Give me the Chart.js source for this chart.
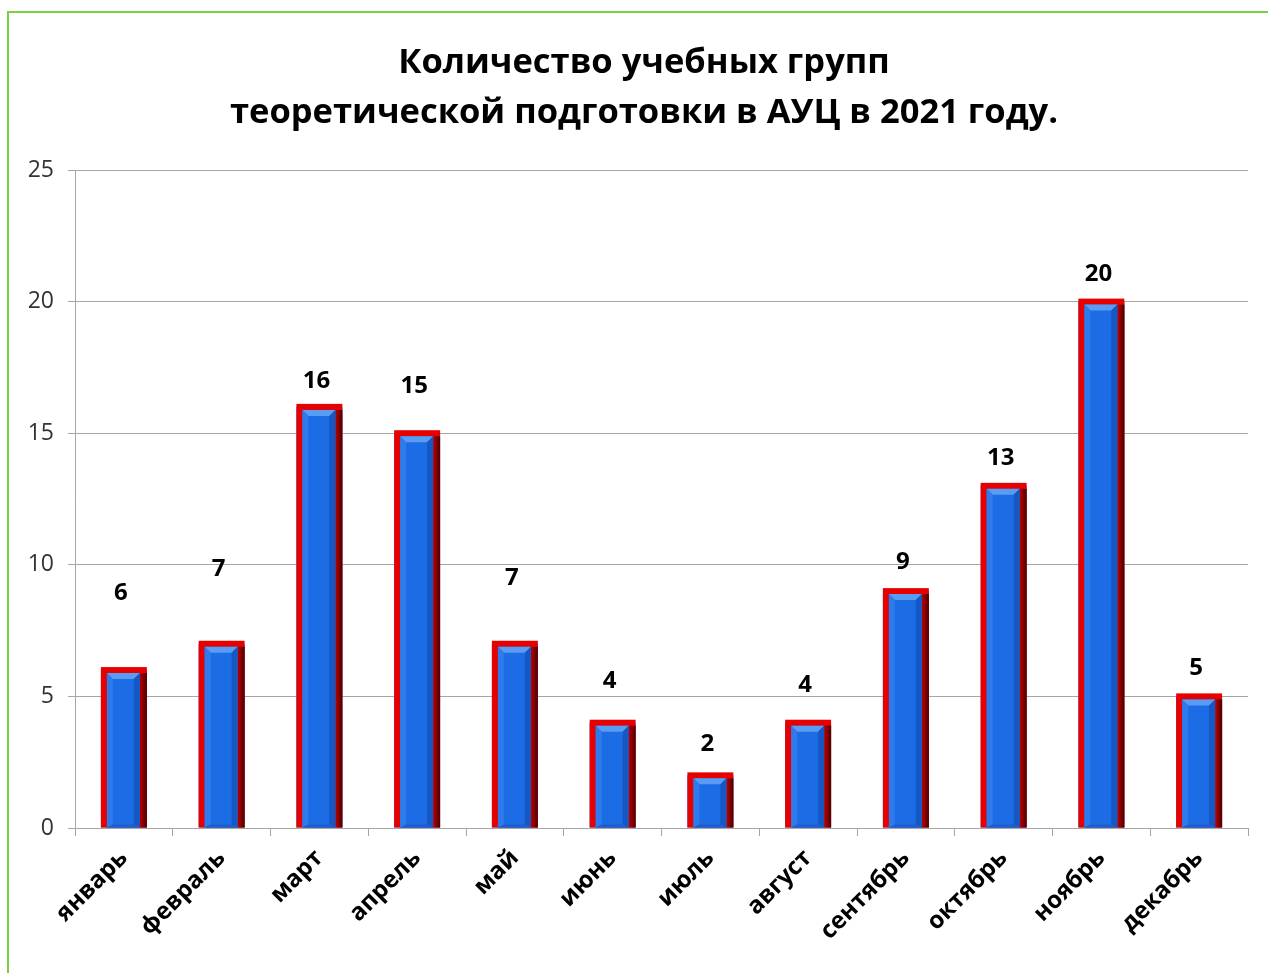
<!DOCTYPE html>
<html>
<head>
<meta charset="utf-8">
<script src="https://cdn.jsdelivr.net/npm/chart.js@4/dist/chart.umd.min.js"></script>
<style>
  html, body { margin: 0; padding: 0; background: #fff; overflow: hidden; }
  #wrap { position: relative; width: 1268px; height: 973px; }
</style>
</head>
<body>
<div id="wrap"><canvas id="c" width="1268" height="973"></canvas></div>
<script>
const titleLines = ['Количество учебных групп', 'теоретической подготовки в АУЦ в 2021 году.'];
const months = ['январь', 'февраль', 'март', 'апрель', 'май', 'июнь', 'июль', 'август', 'сентябрь', 'октябрь', 'ноябрь', 'декабрь'];
const groups = [6, 7, 16, 15, 7, 4, 2, 4, 9, 13, 20, 5];
const yTicks = [0, 5, 10, 15, 20, 25];

const FONT = '"Open Sans", "Liberation Sans", sans-serif';

const framePlugin = {
  id: 'frame',
  beforeDraw(chart) {
    const ctx = chart.ctx;
    ctx.save();
    ctx.fillStyle = '#fff';
    ctx.fillRect(0, 0, chart.width, chart.height);
    ctx.strokeStyle = '#7ad13e';
    ctx.lineWidth = 2;
    ctx.beginPath();
    ctx.moveTo(8, chart.height);
    ctx.lineTo(8, 12);
    ctx.lineTo(chart.width, 12);
    ctx.stroke();
    // title
    ctx.fillStyle = '#000';
    ctx.font = 'bold 34.5px ' + FONT;
    ctx.textAlign = 'center';
    ctx.textBaseline = 'middle';
    const cx = 644;
    ctx.fillText(titleLines[0], cx, 63);
    ctx.fillText(titleLines[1], cx, 113);
    ctx.restore();
  }
};

const barStylePlugin = {
  id: 'barStyle',
  afterDatasetsDraw(chart, args, opts) {
    const ctx = chart.ctx;
    const meta = chart.getDatasetMeta(0);
    ctx.save();
    meta.data.forEach((bar, i) => {
      const p = bar.getProps(['x', 'y', 'base', 'width'], true);
      const L = p.x - p.width / 2, R = p.x + p.width / 2;
      const T = p.y - 3, B = p.base;
      const bw = 6, tb = 6;
      // outer red
      ctx.fillStyle = '#e60000';
      ctx.fillRect(L, T, R - L, B - T);
      // right dark edge
      const g = ctx.createLinearGradient(R - bw - 1, 0, R, 0);
      g.addColorStop(0, '#c00000');
      g.addColorStop(1, '#4a0000');
      ctx.fillStyle = g;
      ctx.fillRect(R - bw - 1, T + tb, bw + 1, B - T - tb);
      // inner blue
      const iL = L + bw, iR = R - bw - 1, iT = T + tb, iB = B;
      ctx.fillStyle = '#1c6ce6';
      ctx.fillRect(iL, iT, iR - iL, iB - iT);
      // bevels
      const bv = 6;
      ctx.fillStyle = '#5a9cf2';
      ctx.beginPath();
      ctx.moveTo(iL, iT); ctx.lineTo(iR, iT); ctx.lineTo(iR - bv, iT + bv); ctx.lineTo(iL + bv, iT + bv); ctx.closePath(); ctx.fill();
      ctx.fillStyle = '#2f7bec';
      ctx.beginPath();
      ctx.moveTo(iL, iT); ctx.lineTo(iL + bv, iT + bv); ctx.lineTo(iL + bv, iB - 3); ctx.lineTo(iL, iB); ctx.closePath(); ctx.fill();
      ctx.fillStyle = '#1558c4';
      ctx.beginPath();
      ctx.moveTo(iR, iT); ctx.lineTo(iR - bv, iT + bv); ctx.lineTo(iR - bv, iB - 3); ctx.lineTo(iR, iB); ctx.closePath(); ctx.fill();
      ctx.fillStyle = '#1a5fd0';
      ctx.beginPath();
      ctx.moveTo(iL, iB); ctx.lineTo(iL + bv, iB - 3); ctx.lineTo(iR - bv, iB - 3); ctx.lineTo(iR, iB); ctx.closePath(); ctx.fill();
      // value label
      ctx.fillStyle = '#000';
      ctx.font = 'bold 24px ' + FONT;
      ctx.textAlign = 'center';
      ctx.textBaseline = 'middle';
      const rise = opts.rise[i];
      ctx.fillText(String(groups[i]), p.x - 3, p.y - rise);
    });
    ctx.restore();
  }
};

new Chart(document.getElementById('c'), {
  type: 'bar',
  data: {
    labels: months,
    datasets: [{
      data: groups,
      backgroundColor: '#1c6ce6',
      borderWidth: 0,
      barPercentage: 0.47,
      categoryPercentage: 1.0
    }]
  },
  plugins: [framePlugin, barStylePlugin],
  options: {
    responsive: false,
    animation: false,
    events: [],
    layout: { padding: { left: 0, right: 20, top: 170, bottom: 0 } },
    plugins: {
      legend: { display: false },
      title: { display: false },
      tooltip: { enabled: false },
      barStyle: { rise: [77, 75, 26, 47, 66, 42, 31, 38, 29, 28, 27, 28] }
    },
    scales: {
      x: {
        grid: { display: true, drawOnChartArea: false, drawTicks: true, tickLength: 8, color: '#a6a6a6', offset: true },
        border: { display: true, color: '#a6a6a6', width: 1 },
        ticks: {
          color: '#000',
          font: { family: FONT, size: 24, weight: 'bold' },
          minRotation: 45, maxRotation: 45,
          padding: 8,
          autoSkip: false
        },
        afterFit(scale) { scale.height = 145; }
      },
      y: {
        min: 0, max: 25,
        afterBuildTicks(scale) { scale.ticks = yTicks.map(v => ({ value: v })); },
        grid: { color: '#a6a6a6', tickLength: 7, drawTicks: true },
        border: { display: true, color: '#a6a6a6', width: 1 },
        ticks: {
          color: '#333',
          font: { family: FONT, size: 23 },
          padding: 14
        },
        afterFit(scale) { scale.width = 75; }
      }
    }
  }
});
</script>
</body>
</html>
